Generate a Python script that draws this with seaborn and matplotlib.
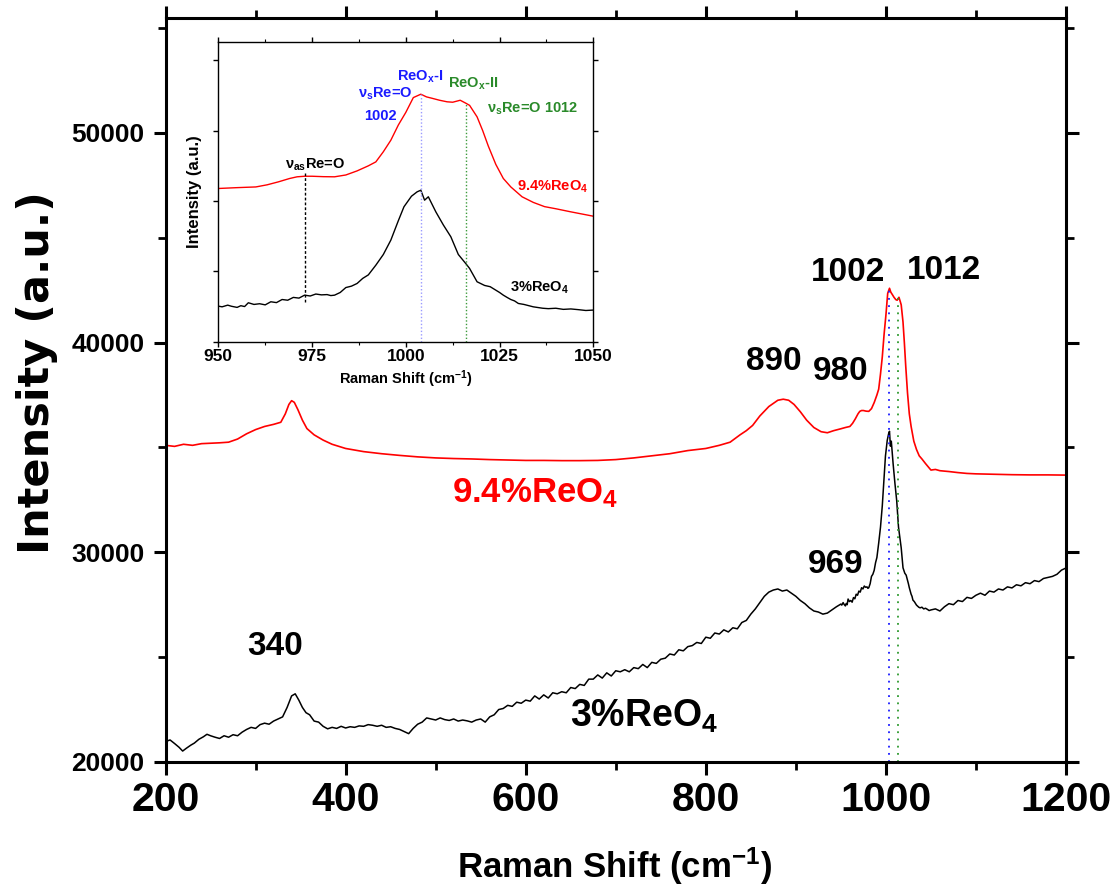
import numpy as np
import pandas as pd
import matplotlib
matplotlib.use("Agg")
import matplotlib.pyplot as plt
from matplotlib.ticker import MultipleLocator
import seaborn as sns

# ---------------- data ----------------
shift_3 = [200, 205, 210, 215, 219, 223, 228, 232, 237, 242, 246, 250, 255, 260, 265, 270, 275, 280,
           285, 290, 295, 300, 305, 310, 315, 320, 325, 330, 335, 340, 344, 348, 352, 356, 360, 365,
           370, 375, 380, 385, 390, 395, 400, 405, 410, 415, 420, 425, 430, 435, 440, 445, 450, 455,
           460, 465, 470, 475, 480, 485, 490, 495, 500, 505, 510, 515, 520, 525, 530, 535, 540, 545,
           550, 555, 560, 565, 570, 575, 580, 585, 590, 595, 600, 605, 610, 615, 620, 625, 630, 635,
           640, 645, 650, 655, 660, 665, 670, 675, 680, 685, 690, 695, 700, 705, 710, 715, 720, 725,
           730, 735, 740, 745, 750, 755, 760, 765, 770, 775, 780, 785, 790, 795, 800, 805, 810, 815,
           820, 825, 830, 835, 840, 845, 850, 855, 860, 865, 870, 875, 880, 885, 890, 895, 900, 905,
           910, 915, 920, 925, 930, 935, 940, 945,
           950, 951, 952.5, 953.5, 955, 956, 957, 958, 959.5, 961, 962.5, 964, 965.5, 967, 968.5,
           970, 971.5, 973, 974.5, 976, 977.5, 979, 980, 981, 982.5, 984, 985.5, 987, 988.5, 990,
           992, 994, 996, 998, 999.5, 1001.5, 1003, 1004, 1005, 1006,
           1008, 1010, 1012, 1014, 1016, 1017, 1019, 1021, 1022.5, 1025, 1026, 1027, 1028, 1029,
           1030, 1031.5, 1033, 1034, 1035, 1036.5, 1038, 1040, 1042, 1044, 1046, 1048, 1050,
           1055, 1060, 1065, 1070, 1075, 1080, 1085, 1090, 1095, 1100,
           1105, 1110, 1115, 1120, 1125, 1130, 1135, 1140, 1145, 1150, 1155, 1160, 1165, 1170, 1175,
           1180, 1185, 1190, 1195, 1200]
intensity_3 = [20970, 21050, 20880, 20700, 20520, 20650, 20800, 20900, 21080, 21200, 21320, 21250,
               21180, 21120, 21250, 21180, 21300, 21250, 21420, 21550, 21650, 21600, 21780, 21850,
               21800, 21950, 22050, 22150, 22600, 23150, 23250, 22950, 22600, 22350, 22250, 21950,
               21900, 21700, 21580, 21650, 21600, 21700, 21620, 21680, 21650, 21720, 21700, 21780,
               21750, 21700, 21750, 21650, 21680, 21600, 21550, 21450, 21350, 21600, 21800, 21900,
               22100, 22050, 22000, 22100, 22020, 21980, 22050, 21950, 22000, 21960, 21900, 22000,
               22050, 21900, 22150, 22250, 22500, 22550, 22700, 22650, 22850, 22800, 22950, 22900,
               23150, 23000, 23200, 23050, 23300, 23250, 23350, 23300, 23550, 23500, 23700, 23650,
               23950, 23950, 24150, 24000, 24250, 24100, 24350, 24300, 24400, 24300, 24500, 24450,
               24650, 24500, 24750, 24700, 24900, 24950, 25150, 25100, 25350, 25300, 25500, 25550,
               25700, 25650, 25950, 25900, 26150, 26100, 26300, 26200, 26400, 26350, 26650, 26750,
               27050, 27300, 27600, 27900, 28100, 28200, 28250, 28150, 28200, 28050, 27900, 27700,
               27550, 27350, 27200, 27150, 27050, 27100, 27250, 27400,
               27530, 27480, 27600, 27520, 27440, 27560, 27500, 27770, 27650, 27700, 27620, 27840,
               27780, 28000, 27950, 28150, 28100, 28310, 28250, 28390, 28330, 28350, 28280, 28310,
               28500, 28850, 28950, 29140, 29500, 29750,
               30440, 31200, 32220, 33600, 34590, 35340, 35650, 35770, 35060, 35300,
               34230, 33300, 32460, 31200, 30550, 30210, 29260, 29000, 28910, 28500, 28310, 28150,
               28000, 27900, 27720, 27650, 27550, 27480, 27440, 27380, 27350, 27380, 27300, 27330,
               27280, 27220, 27250,
               27300, 27200, 27400, 27550, 27500, 27700, 27650, 27850, 27800, 27950,
               28050, 27950, 28150, 28100, 28250, 28200, 28350, 28300, 28450, 28400, 28550, 28500,
               28650, 28600, 28750, 28800, 28850, 28950, 29150, 29250]

shift_94 = [200, 210, 220, 230, 240, 250, 260, 270, 280, 290, 300, 310, 320, 328, 333, 337, 340, 343,
            347, 352, 357, 365, 375, 385, 400, 420, 440, 460, 480, 500, 520, 540, 560, 580, 600, 620,
            640, 660, 680, 700, 720, 740, 760, 780, 800, 815, 827, 838, 845, 852, 860, 870, 880, 886,
            892, 898, 905, 912, 920, 928, 935, 942, 950, 955, 960, 963, 966, 969, 971, 973, 975, 978,
            981, 984, 987, 990, 992, 994, 996, 998, 1000, 1002, 1004, 1005.5, 1007, 1009, 1011,
            1012.5, 1014.5, 1016, 1017, 1019, 1020.5, 1022, 1024, 1026, 1028, 1031, 1034, 1037, 1040,
            1044, 1050, 1055, 1060, 1070, 1080, 1090, 1100, 1120, 1140, 1160, 1180, 1200]
intensity_94 = [35100, 35050, 35150, 35100, 35180, 35200, 35220, 35250, 35400, 35650, 35850, 36000,
                36100, 36200, 36600, 37050, 37230, 37150, 36800, 36300, 35900, 35600, 35350, 35150,
                34950, 34800, 34700, 34620, 34550, 34500, 34470, 34450, 34420, 34400, 34380, 34380,
                34370, 34370, 34380, 34420, 34500, 34600, 34700, 34850, 34950, 35100, 35250, 35600,
                35800, 36050, 36500, 36950, 37250, 37300, 37250, 37050, 36700, 36300, 35950, 35750,
                35700, 35800, 35890, 35950, 36000, 36150, 36360, 36600, 36720, 36760, 36760, 36730,
                36720, 36850, 37140, 37500, 37780, 38500, 39320, 40400, 41300, 42350, 42590, 42400,
                42300, 42160, 42050, 42020, 42160, 41950, 41800, 40980, 40000, 38900, 37600, 36600,
                36000, 35300, 34900, 34600, 34450, 34230, 33920, 33950, 33890, 33850, 33800, 33760,
                33740, 33720, 33700, 33690, 33690, 33680]

# reference lines
main_marks_x = [1003, 1013]
main_marks_top = [42700, 42300]
main_marks_color = ["#1a1aff", "#2e9a2e"]
inset_marks_x = [1004, 1016]
inset_marks_top = [42590, 41950]
inset_marks_color = ["#9a9aff", "#3c9a3c"]
inset_as_x = [973]
inset_as_range = [27840, 36960]

x_ticks_main = [200, 400, 600, 800, 1000, 1200]
y_ticks_main = [20000, 30000, 40000, 50000]
x_ticks_inset = [950, 975, 1000, 1025, 1050]
y_ticks_inset = [25000, 30000, 35000, 40000, 45000]

df3 = pd.DataFrame({"shift": shift_3, "intensity": intensity_3})
df94 = pd.DataFrame({"shift": shift_94, "intensity": intensity_94})

# ---------------- style ----------------
sns.set_style("ticks")
plt.rcParams["font.family"] = ["Liberation Sans", "DejaVu Sans"]
plt.rcParams["font.weight"] = "bold"
plt.rcParams["text.color"] = "black"
plt.rcParams["axes.labelcolor"] = "black"
plt.rcParams["xtick.color"] = "black"
plt.rcParams["ytick.color"] = "black"
plt.rcParams["axes.edgecolor"] = "black"
plt.rcParams["mathtext.fontset"] = "custom"
plt.rcParams["mathtext.rm"] = "Liberation Sans:bold"
plt.rcParams["mathtext.bf"] = "Liberation Sans:bold"
plt.rcParams["mathtext.it"] = "Liberation Sans:bold"
plt.rcParams["mathtext.default"] = "bf"

fig = plt.figure(figsize=(11.14, 8.86), dpi=100)
ax = fig.add_axes([0.1486, 0.140, 0.8083, 0.8397])

sns.lineplot(data=df94, x="shift", y="intensity", ax=ax, color="#ff0000", lw=1.2,
             estimator=None, sort=False)
sns.lineplot(data=df3, x="shift", y="intensity", ax=ax, color="black", lw=1.1,
             estimator=None, sort=False)
for xm, top, c in zip(main_marks_x, main_marks_top, main_marks_color):
    ax.vlines(xm, 20000, top, colors=c, linestyles=(0, (1, 3)), lw=1.3)

ax.set_xlim(200, 1200)
ax.set_ylim(20000, 55480)
ax.set_xticks(x_ticks_main)
ax.set_yticks(y_ticks_main)
ax.xaxis.set_minor_locator(MultipleLocator(100))
ax.yaxis.set_minor_locator(MultipleLocator(5000))
ax.set_xlabel("")
ax.set_ylabel("")
for s in ax.spines.values():
    s.set_visible(True)
    s.set_linewidth(2.2)
    s.set_color("black")
ax.tick_params(which="major", direction="out", length=9, width=2.2, top=True, right=True,
               color="black", labelcolor="black")
ax.tick_params(which="minor", direction="out", length=5.5, width=2.0, top=True, right=True,
               color="black")
ax.tick_params(axis="x", which="major", labelsize=29.5, pad=5)
ax.tick_params(axis="y", which="major", labelsize=19, pad=6)
for lab in ax.get_xticklabels() + ax.get_yticklabels():
    lab.set_fontweight("bold")
    lab.set_color("black")

fig.text(37 / 1114, 1 - 373 / 886, "Intensity (a.u.)", rotation=90, ha="center", va="center",
         fontsize=31, fontweight="bold", family="DejaVu Sans", color="black")
fig.text(615 / 1114, 1 - 866 / 886, "Raman Shift (cm$^{-1}$)", ha="center", va="center",
         fontsize=25, fontweight="bold", color="black")

# annotations main
for txt, xx, yy in [("1002", 957.5, 43320), ("1012", 1064, 43420), ("890", 875.4, 39080),
                    ("980", 949.7, 38600), ("969", 944.2, 29440), ("340", 321.5, 25530)]:
    ax.text(xx, yy, txt, ha="center", va="center", fontsize=24, fontweight="bold",
            color="black")
ax.text(518, 32400, "9.4%ReO$_4$", ha="left", va="baseline", fontsize=25, fontweight="bold",
        color="#ff0000")
ax.text(649, 21670, "3%ReO$_4$", ha="left", va="baseline", fontsize=27, fontweight="bold",
        color="black")

# ---------------- inset ----------------
axi = fig.add_axes([0.196, 0.6143, 0.3366, 0.3383])
sns.lineplot(data=df94, x="shift", y="intensity", ax=axi, color="#ff0000", lw=1.0,
             estimator=None, sort=False)
sns.lineplot(data=df3, x="shift", y="intensity", ax=axi, color="black", lw=1.0,
             estimator=None, sort=False)
for xm, top, c in zip(inset_marks_x, inset_marks_top, inset_marks_color):
    axi.vlines(xm, 25000, top, colors=c, linestyles=(0, (1, 1.5)), lw=1.0)
axi.vlines(inset_as_x, inset_as_range[0], inset_as_range[1], colors="black",
           linestyles=(0, (2, 1.5)), lw=1.0)
axi.set_xlim(950, 1050)
axi.set_ylim(25000, 46300)
axi.set_xticks(x_ticks_inset)
axi.set_yticks(y_ticks_inset)
axi.set_yticklabels([])
axi.xaxis.set_minor_locator(MultipleLocator(12.5))
axi.set_xlabel("Raman Shift (cm$^{-1}$)", fontsize=10.5, fontweight="bold", labelpad=3,
               color="black")
axi.set_ylabel("Intensity (a.u.)", fontsize=12, fontweight="bold", labelpad=6, color="black")
for s in axi.spines.values():
    s.set_visible(True)
    s.set_linewidth(1.0)
    s.set_color("black")
axi.tick_params(which="major", direction="out", length=3.5, width=1.0, top=True, right=True,
                color="black", labelsize=12.5, pad=2, labelcolor="black")
axi.tick_params(which="minor", direction="out", length=2, width=0.8, top=True, right=True,
                color="black")
for lab in axi.get_xticklabels():
    lab.set_fontweight("bold")
    lab.set_color("black")

blue = "#1a1aff"
green = "#2a8a2a"
axi.text(1003.8, 43860, "ReO$_x$-I", ha="center", va="center", fontsize=10.5, color=blue,
         fontweight="bold")
axi.text(994.5, 42590, "ν$_s$Re=O", ha="center", va="center", fontsize=10.5, color=blue,
         fontweight="bold")
axi.text(993.1, 41030, "1002", ha="center", va="center", fontsize=10.5, color=blue,
         fontweight="bold")
axi.text(1018, 43300, "ReO$_x$-II", ha="center", va="center", fontsize=10.5, color=green,
         fontweight="bold")
axi.text(1033.7, 41560, "ν$_s$Re=O 1012", ha="center", va="center", fontsize=10.5, color=green,
         fontweight="bold")
axi.text(975.9, 37550, "ν$_{as}$Re=O", ha="center", va="center", fontsize=10.5, color="black",
         fontweight="bold")
axi.text(1039.1, 36020, "9.4%ReO$_4$", ha="center", va="center", fontsize=10.5, color="#ff0000",
         fontweight="bold")
axi.text(1035.7, 28810, "3%ReO$_4$", ha="center", va="center", fontsize=10.5, color="black",
         fontweight="bold")

fig.savefig("out.png", dpi=100)
